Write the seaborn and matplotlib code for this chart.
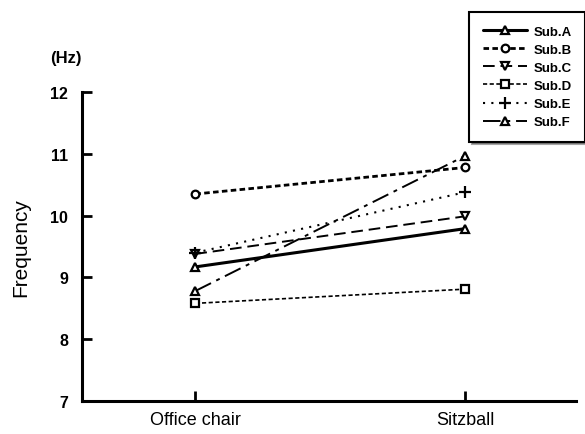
import matplotlib
matplotlib.use("Agg")
import matplotlib.pyplot as plt
import seaborn as sns
import pandas as pd

# conditions on the x axis
sillas = ["Office chair", "Sitzball"]
sujetos = ["Sub.A", "Sub.B", "Sub.C", "Sub.D", "Sub.E", "Sub.F"]

# frequency (Hz) per subject: office chair, sitzball
sub_a = [9.17, 9.79]
sub_b = [10.35, 10.78]
sub_c = [9.38, 9.99]
sub_d = [8.58, 8.81]
sub_e = [9.40, 10.38]
sub_f = [8.78, 10.97]
valores = [sub_a, sub_b, sub_c, sub_d, sub_e, sub_f]

estilos = {
    "Sub.A": dict(marker="^", dashes=(None, None), lw=2.2),
    "Sub.B": dict(marker="o", dashes=(2.0, 1.2), lw=2.0),
    "Sub.C": dict(marker="v", dashes=(6, 3), lw=1.4),
    "Sub.D": dict(marker="s", dashes=(2.5, 1.5), lw=1.2),
    "Sub.E": dict(marker="+", dashes=(1, 3), lw=1.5),
    "Sub.F": dict(marker="^", dashes=(9, 3, 2, 3), lw=1.4),
}

filas = []
for s, vals in zip(sujetos, valores):
    for i, v in enumerate(vals):
        filas.append({"sujeto": s, "x": i, "freq": v})
df = pd.DataFrame(filas)

sns.set_style("ticks")
plt.rcParams["font.family"] = ["Liberation Sans", "DejaVu Sans"]
plt.rcParams["text.color"] = "black"
plt.rcParams["axes.labelcolor"] = "black"
plt.rcParams["xtick.color"] = "black"
plt.rcParams["ytick.color"] = "black"
plt.rcParams["axes.edgecolor"] = "black"

fig = plt.figure(figsize=(5.85, 4.35), dpi=100)
ax = fig.add_axes([0.14, 0.076, 0.845, 0.71])

for s in sujetos:
    e = estilos[s]
    d = df[df["sujeto"] == s]
    ms = 9 if e["marker"] == "+" else 5.5
    sns.lineplot(data=d, x="x", y="freq", ax=ax, color="black", lw=e["lw"],
                 marker=e["marker"], markersize=ms, markerfacecolor="white",
                 markeredgecolor="black", markeredgewidth=1.6, label=s)
    linea = ax.lines[-1]
    if e["dashes"][0] is not None:
        linea.set_dashes(e["dashes"])

ax.set_xlim(-0.42, 1.41)
ax.set_ylim(7, 12)
ax.set_xticks([0, 1])
ax.set_xticklabels(sillas, fontsize=13)
ax.set_yticks([7, 8, 9, 10, 11, 12])
ax.set_yticklabels(["7", "8", "9", "10", "11", "12"], fontsize=11.5, fontweight="bold")
ax.tick_params(direction="in", length=7, width=2, pad=10)
ax.tick_params(axis="x", pad=7)
ax.set_xlabel("")
ax.set_ylabel("Frequency", fontsize=15, labelpad=14)
sns.despine(ax=ax)
ax.spines["left"].set_linewidth(2.2)
ax.spines["bottom"].set_linewidth(2.2)
fig.text(0.085, 0.855, "(Hz)", fontsize=12, fontweight="bold")

leg = ax.legend(loc="upper right", bbox_to_anchor=(1.012, 0.985), bbox_transform=fig.transFigure,
                frameon=True, fancybox=False, shadow=True, prop={"weight": "bold", "size": 9.5},
                handlelength=3.4, handletextpad=0.5, labelspacing=0.45, borderpad=1.0,
                edgecolor="black")
leg.get_frame().set_linewidth(1.5)

fig.savefig("out.png", dpi=100)
